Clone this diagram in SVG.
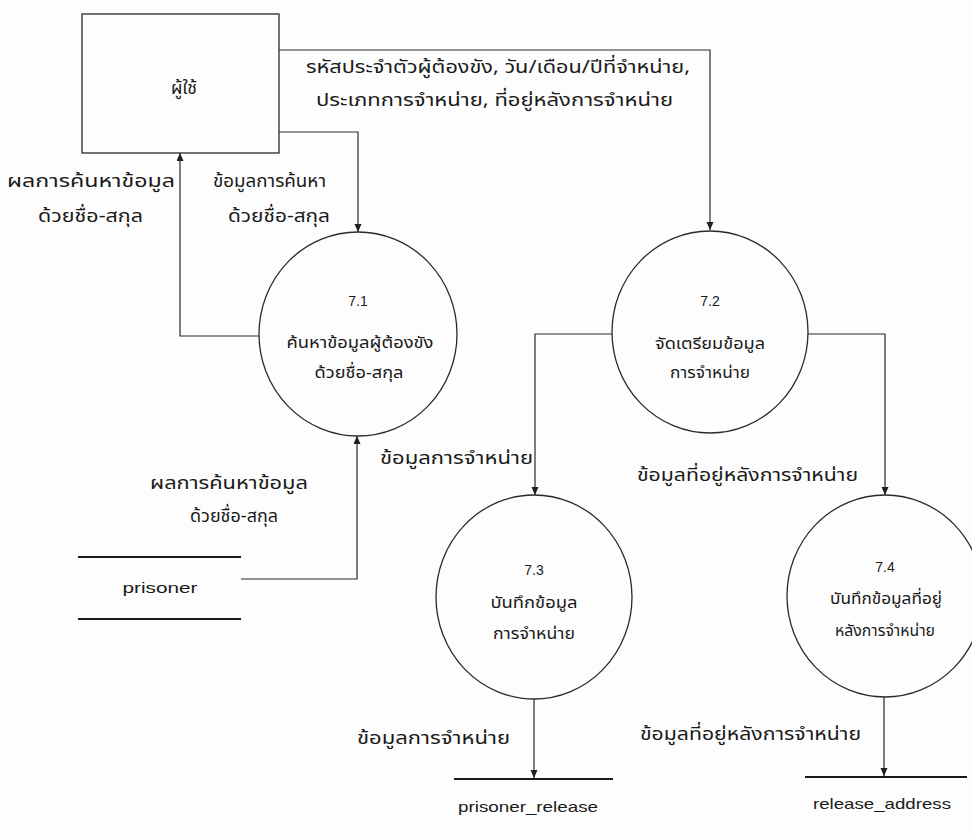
<svg xmlns="http://www.w3.org/2000/svg" width="972" height="836" viewBox="0 0 972 836">
  <style>
    .bg { fill: #fdfdfd; }
    .shape { fill: none; stroke: #2a2a2a; stroke-width: 1.3; }
    .flow { fill: none; stroke: #2a2a2a; stroke-width: 1.2; }
    .store { stroke: #1a1a1a; stroke-width: 2.2; }
    .lbl { font-family: "Noto Sans Thai", "Noto Sans Thai UI", "Noto Sans", "DejaVu Sans", sans-serif; font-size: 18px; fill: #1a1a1a; }
    .proc { font-family: "Noto Sans Thai", "Noto Sans Thai UI", "Noto Sans", "DejaVu Sans", sans-serif; font-size: 16px; fill: #1a1a1a; text-anchor: middle; }
    .num { font-family: "Liberation Sans", Arial, sans-serif; font-size: 14px; fill: #1a1a1a; text-anchor: middle; }
    .ds { font-family: "Liberation Sans", Arial, sans-serif; font-size: 15px; fill: #1a1a1a; text-anchor: middle; }
  </style>
  <defs>
    <marker id="arrow" markerWidth="8" markerHeight="8" refX="8" refY="3.5" orient="auto" markerUnits="userSpaceOnUse">
      <path d="M0,0 L8,3.5 L0,7 z" fill="#1e1e1e"/>
    </marker>
  </defs>

  <rect class="bg" x="0" y="0" width="972" height="836"/>

  <!-- external entity: user -->
  <g id="user">
    <rect class="shape" x="82" y="14" width="197" height="139"/>
    <text class="lbl" x="184" y="94" text-anchor="middle" textLength="26" lengthAdjust="spacingAndGlyphs">ผู้ใช้</text>
  </g>

  <!-- processes -->
  <g id="p71">
    <ellipse class="shape" cx="358" cy="334" rx="99" ry="102"/>
    <text class="num" x="358" y="306">7.1</text>
    <text class="proc" x="360" y="348" textLength="147" lengthAdjust="spacingAndGlyphs">ค้นหาข้อมูลผู้ต้องขัง</text>
    <text class="proc" x="359" y="378" textLength="89" lengthAdjust="spacingAndGlyphs">ด้วยชื่อ-สกุล</text>
  </g>

  <g id="p72">
    <ellipse class="shape" cx="710" cy="332" rx="98" ry="101"/>
    <text class="num" x="710" y="306">7.2</text>
    <text class="proc" x="710" y="349" textLength="110" lengthAdjust="spacingAndGlyphs">จัดเตรียมข้อมูล</text>
    <text class="proc" x="710" y="378" textLength="80" lengthAdjust="spacingAndGlyphs">การจำหน่าย</text>
  </g>

  <g id="p73">
    <ellipse class="shape" cx="534" cy="597" rx="98" ry="102"/>
    <text class="num" x="534" y="575">7.3</text>
    <text class="proc" x="534" y="608" textLength="87" lengthAdjust="spacingAndGlyphs">บันทึกข้อมูล</text>
    <text class="proc" x="534" y="639" textLength="82" lengthAdjust="spacingAndGlyphs">การจำหน่าย</text>
  </g>

  <g id="p74">
    <ellipse class="shape" cx="885" cy="596" rx="98" ry="101"/>
    <text class="num" x="885" y="572">7.4</text>
    <text class="proc" x="886" y="604" textLength="112" lengthAdjust="spacingAndGlyphs">บันทึกข้อมูลที่อยู่</text>
    <text class="proc" x="885" y="636" textLength="100" lengthAdjust="spacingAndGlyphs">หลังการจำหน่าย</text>
  </g>

  <!-- data stores -->
  <g id="ds-prisoner">
    <line class="store" x1="78" y1="557" x2="241" y2="557"/>
    <line class="store" x1="78" y1="619" x2="241" y2="619"/>
    <text class="ds" x="160" y="593" textLength="75" lengthAdjust="spacingAndGlyphs">prisoner</text>
  </g>

  <g id="ds-prisoner-release">
    <line class="store" x1="454" y1="779" x2="613" y2="779"/>
    <text class="ds" x="528" y="812" textLength="140" lengthAdjust="spacingAndGlyphs">prisoner_release</text>
  </g>

  <g id="ds-release-address">
    <line class="store" x1="805" y1="777" x2="967" y2="777"/>
    <text class="ds" x="882" y="809" textLength="138" lengthAdjust="spacingAndGlyphs">release_address</text>
  </g>

  <!-- data flows -->
  <g id="flows">
    <path class="flow" d="M279,50 H710 V230" marker-end="url(#arrow)"/>
    <path class="flow" d="M279,132 H358 V232" marker-end="url(#arrow)"/>
    <path class="flow" d="M259,336 H180 V153" marker-end="url(#arrow)"/>
    <path class="flow" d="M241,579 H357 V436" marker-end="url(#arrow)"/>
    <path class="flow" d="M612,334 H535 V495" marker-end="url(#arrow)"/>
    <path class="flow" d="M808,334 H885 V495" marker-end="url(#arrow)"/>
    <path class="flow" d="M534,699 V778" marker-end="url(#arrow)"/>
    <path class="flow" d="M884,697 V776" marker-end="url(#arrow)"/>
  </g>

  <!-- flow labels -->
  <g id="flow-labels">
    <text class="lbl" x="306" y="73" textLength="384" lengthAdjust="spacingAndGlyphs">รหัสประจำตัวผู้ต้องขัง, วัน/เดือน/ปีที่จำหน่าย,</text>
    <text class="lbl" x="316" y="106" textLength="357" lengthAdjust="spacingAndGlyphs">ประเภทการจำหน่าย, ที่อยู่หลังการจำหน่าย</text>

    <text class="lbl" x="7" y="187" textLength="168" lengthAdjust="spacingAndGlyphs">ผลการค้นหาข้อมูล</text>
    <text class="lbl" x="38" y="222" textLength="105" lengthAdjust="spacingAndGlyphs">ด้วยชื่อ-สกุล</text>

    <text class="lbl" x="213" y="187" textLength="113" lengthAdjust="spacingAndGlyphs">ข้อมูลการค้นหา</text>
    <text class="lbl" x="228" y="222" textLength="102" lengthAdjust="spacingAndGlyphs">ด้วยชื่อ-สกุล</text>

    <text class="lbl" x="380" y="464" textLength="153" lengthAdjust="spacingAndGlyphs">ข้อมูลการจำหน่าย</text>
    <text class="lbl" x="637" y="481" textLength="221" lengthAdjust="spacingAndGlyphs">ข้อมูลที่อยู่หลังการจำหน่าย</text>

    <text class="lbl" x="150" y="489" textLength="158" lengthAdjust="spacingAndGlyphs">ผลการค้นหาข้อมูล</text>
    <text class="lbl" x="190" y="522" textLength="88" lengthAdjust="spacingAndGlyphs">ด้วยชื่อ-สกุล</text>

    <text class="lbl" x="357" y="744" textLength="153" lengthAdjust="spacingAndGlyphs">ข้อมูลการจำหน่าย</text>
    <text class="lbl" x="640" y="740" textLength="221" lengthAdjust="spacingAndGlyphs">ข้อมูลที่อยู่หลังการจำหน่าย</text>
  </g>
</svg>
